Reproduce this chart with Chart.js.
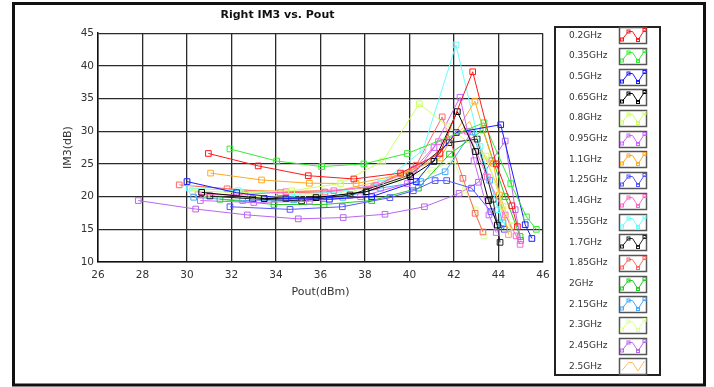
<!DOCTYPE html>
<html><head><meta charset="utf-8">
<script src="https://cdn.jsdelivr.net/npm/chart.js@4"></script>
<style>html,body{margin:0;padding:0;background:#fff;}canvas{display:block;}</style>
</head><body>
<canvas id="c" width="714" height="387"></canvas>
<script>
// ---- data (Pout dBm, IM3 dB) ----
const freqLabels = ["0.2GHz","0.35GHz","0.5GHz","0.65GHz","0.8GHz","0.95GHz","1.1GHz","1.25GHz","1.4GHz","1.55GHz","1.7GHz","1.85GHz","2GHz","2.15GHz","2.3GHz","2.45GHz","2.5GHz"];
const xTicks = [26,28,30,32,34,36,38,40,42,44,46];
const yTicks = [10,15,20,25,30,35,40,45];

const s_0_2  = [[30.96,26.6],[33.2,24.7],[35.45,23.2],[37.5,22.7],[39.6,23.6],[41.37,26.6],[42.84,39.1],[43.9,25.0],[44.6,18.6],[44.85,15.4]];
const s_0_35 = [[31.93,27.3],[34.03,25.45],[36.05,24.6],[37.95,25.0],[39.9,26.6],[43.35,31.3],[44.55,22.0],[45.26,16.9],[45.7,15.0]];
const s_0_5  = [[30.0,22.3],[32.23,20.6],[34.45,19.7],[36.4,19.6],[38.3,20.0],[40.3,22.3],[42.1,29.8],[44.1,31.0],[45.2,15.7],[45.5,13.6]];
const s_0_65 = [[30.66,20.65],[33.47,19.7],[35.8,19.85],[38.05,20.75],[40.05,23.05],[41.1,25.4],[42.15,33.0],[42.97,26.9],[43.55,19.4],[43.95,15.65]];
const s_0_8  = [[30.24,20.9],[32.4,20.6],[34.7,20.9],[36.9,22.0],[38.8,25.45],[40.44,34.2],[41.74,30.7],[43.44,26.2],[44.2,18.5],[44.6,15.5]];
const s_0_95 = [[30.6,19.4],[33.0,19.1],[35.5,19.3],[37.8,20.0],[39.9,22.0],[41.1,27.5],[42.27,35.2],[42.9,25.5],[43.57,17.2],[43.9,14.5]];
const s_1_1  = [[31.06,23.6],[33.35,22.55],[35.5,22.05],[37.6,22.0],[39.7,23.4],[41.37,25.9],[42.94,34.6],[43.77,25.1],[44.04,20.25],[44.45,14.2]];
const s_1_25 = [[31.93,18.45],[34.63,18.05],[36.98,18.45],[39.12,19.85],[40.17,20.9],[41.15,22.45],[41.67,22.45],[42.79,21.3],[43.66,17.7],[44.26,15.0]];
const s_1_4  = [[30.5,20.3],[32.6,20.3],[34.45,20.75],[36.6,20.9],[38.5,21.7],[40.2,24.2],[41.3,28.4],[42.6,30.0],[43.5,23.0],[44.3,17.2],[44.79,14.0],[44.97,12.7]];
const s_1_55 = [[30.1,21.3],[32.3,20.9],[34.7,20.35],[36.8,20.7],[38.7,22.0],[40.6,27.1],[42.09,43.2],[43.17,27.65],[44.0,18.0],[44.14,15.65]];
const s_1_7  = [[31.03,20.1],[32.95,19.65],[35.15,19.35],[37.33,20.25],[40.0,23.3],[41.78,28.25],[43.04,28.8],[43.75,19.6],[44.07,13.0]];
const s_1_85 = [[29.65,21.8],[31.8,21.2],[34.2,20.6],[36.2,20.7],[38.4,21.5],[40.3,24.8],[41.47,32.2],[42.4,22.8],[42.95,17.45],[43.3,14.6]];
const s_2_0  = [[31.48,19.6],[33.91,18.8],[36.16,18.8],[38.3,19.4],[40.4,21.3],[41.8,26.5],[43.3,30.2],[44.3,20.0],[44.97,13.9]];
const s_2_15 = [[30.3,19.9],[32.5,19.4],[34.8,19.5],[37.0,19.9],[38.7,21.3],[40.5,22.3],[41.6,23.8],[42.8,29.9],[43.6,22.5],[44.2,16.0]];
const s_2_3  = [[30.9,20.4],[33.0,20.0],[35.2,20.2],[37.4,20.8],[39.5,22.5],[41.0,24.0],[42.0,25.6],[42.5,21.0],[42.95,18.0],[43.35,14.0]];
const s_2_45 = [[27.81,19.4],[30.39,18.1],[32.71,17.2],[35.0,16.6],[37.02,16.8],[38.9,17.3],[40.67,18.45],[42.23,20.5],[43.1,22.2],[43.7,25.5],[44.3,28.5],[44.75,18.0],[45.0,13.3]];
const s_2_5  = [[30.4,21.6],[32.6,21.0],[34.9,20.8],[37.0,21.1],[39.0,22.6],[40.8,25.2],[42.7,31.5],[43.9,22.0],[44.6,14.8]];

const seriesData = [s_0_2,s_0_35,s_0_5,s_0_65,s_0_8,s_0_95,s_1_1,s_1_25,s_1_4,s_1_55,s_1_7,s_1_85,s_2_0,s_2_15,s_2_3,s_2_45,s_2_5];
const seriesColors = ["#ff1a1a","#33ee33","#1a1aff","#000000","#ccff66","#cc66ff","#ffaa22","#5555ff","#ff66cc","#66ffff","#222222","#ff6666","#22cc22","#44aaff","#ddff99","#bb66ee","#ffbb55"];
const seriesMarkers = [true,true,true,true,true,true,true,true,true,true,true,true,true,true,true,true,false];

const FONT = '"DejaVu Sans", sans-serif';

const datasets = seriesData.map((pts, i) => ({
  label: freqLabels[i],
  data: pts.map(p => ({x: p[0], y: p[1]})),
  showLine: true,
  borderColor: seriesColors[i],
  backgroundColor: 'rgba(0,0,0,0)',
  borderWidth: 1,
  tension: 0,
  pointStyle: 'rect',
  pointRadius: seriesMarkers[i] ? 4 : 0,
  pointBorderWidth: 1,
  pointBorderColor: seriesColors[i],
  pointBackgroundColor: 'rgba(0,0,0,0)'
}));

const framePlugin = {
  id: 'frame',
  beforeDraw(chart) {
    const ctx = chart.ctx;
    ctx.save();
    ctx.fillStyle = '#fff';
    ctx.fillRect(0, 0, chart.width, chart.height);
    ctx.restore();
  },
  afterDraw(chart) {
    const ctx = chart.ctx;
    ctx.save();
    ctx.strokeStyle = '#111';
    ctx.lineWidth = 3;
    ctx.strokeRect(13.5, 3.5, 691, 381.5);
    ctx.restore();
  }
};

const legendPlugin = {
  id: 'sideLegend',
  afterDraw(chart) {
    const ctx = chart.ctx;
    ctx.save();
    ctx.strokeStyle = '#222';
    ctx.lineWidth = 2;
    ctx.strokeRect(555, 27, 105, 348);
    const zig = [[2.5,12],[9,4],[13,4],[18.5,12.5],[25,2.5]];
    chart.data.datasets.forEach((ds, i) => {
      const cy = 35.3 + i * 20.69;
      ctx.fillStyle = '#333';
      ctx.font = '9px ' + FONT;
      ctx.textAlign = 'left';
      ctx.textBaseline = 'middle';
      ctx.fillText(ds.label, 569, cy);
      const bx = 619.5, by = Math.round(cy - 8) + 0.5;
      ctx.fillStyle = '#fff';
      ctx.fillRect(bx, by, 27, 16);
      ctx.strokeStyle = '#555';
      ctx.lineWidth = 1.5;
      ctx.strokeRect(bx, by, 27, 16);
      ctx.strokeStyle = ds.borderColor;
      ctx.lineWidth = 1;
      ctx.beginPath();
      zig.forEach((p, k) => {
        const px = bx + p[0], py = by + p[1];
        if (k === 0) ctx.moveTo(px, py); else ctx.lineTo(px, py);
      });
      ctx.stroke();
      if (ds.pointRadius > 0) {
        [0,1,3,4].forEach(k => {
          const px = bx + zig[k][0], py = by + zig[k][1];
          ctx.strokeRect(px - 1.5, py - 1.5, 3, 3);
        });
      }
    });
    ctx.restore();
  }
};

new Chart(document.getElementById('c'), {
  type: 'scatter',
  data: { datasets },
  plugins: [framePlugin, legendPlugin],
  options: {
    responsive: false,
    animation: false,
    devicePixelRatio: 1,
    layout: { padding: { left: 12, right: 171, top: 0, bottom: 84 } },
    plugins: {
      legend: { display: false },
      tooltip: { enabled: false },
      title: {
        display: true,
        text: 'Right IM3 vs. Pout',
        color: '#111',
        font: { family: FONT, size: 11, weight: 'bold' },
        padding: { top: 9, bottom: 11 }
      }
    },
    scales: {
      x: {
        type: 'linear',
        min: 26, max: 46,
        afterFit(s) { s.height = 41; },
        afterBuildTicks(s) { s.ticks = xTicks.map(v => ({value: v})); },
        ticks: { color: '#333', padding: 7, font: { family: FONT, size: 10.5 } },
        grid: { color: '#2a2a2a', lineWidth: 1.3, drawTicks: false },
        border: { display: true, color: '#111', width: 1.5 },
        title: { display: true, text: 'Pout(dBm)', color: '#333', font: { family: FONT, size: 11 }, padding: { top: 0, bottom: 4 } }
      },
      y: {
        type: 'linear',
        min: 10, max: 45,
        afterFit(s) { s.width = 86; },
        afterBuildTicks(s) { s.ticks = yTicks.map(v => ({value: v})); },
        ticks: { color: '#333', padding: 4, font: { family: FONT, size: 10.5 } },
        grid: { color: '#2a2a2a', lineWidth: 1.3, drawTicks: false },
        border: { display: true, color: '#111', width: 1.5 },
        title: { display: true, text: 'IM3(dB)', color: '#333', font: { family: FONT, size: 11 }, padding: { top: 50, bottom: 0 } }
      }
    }
  }
});
</script>
</body></html>
